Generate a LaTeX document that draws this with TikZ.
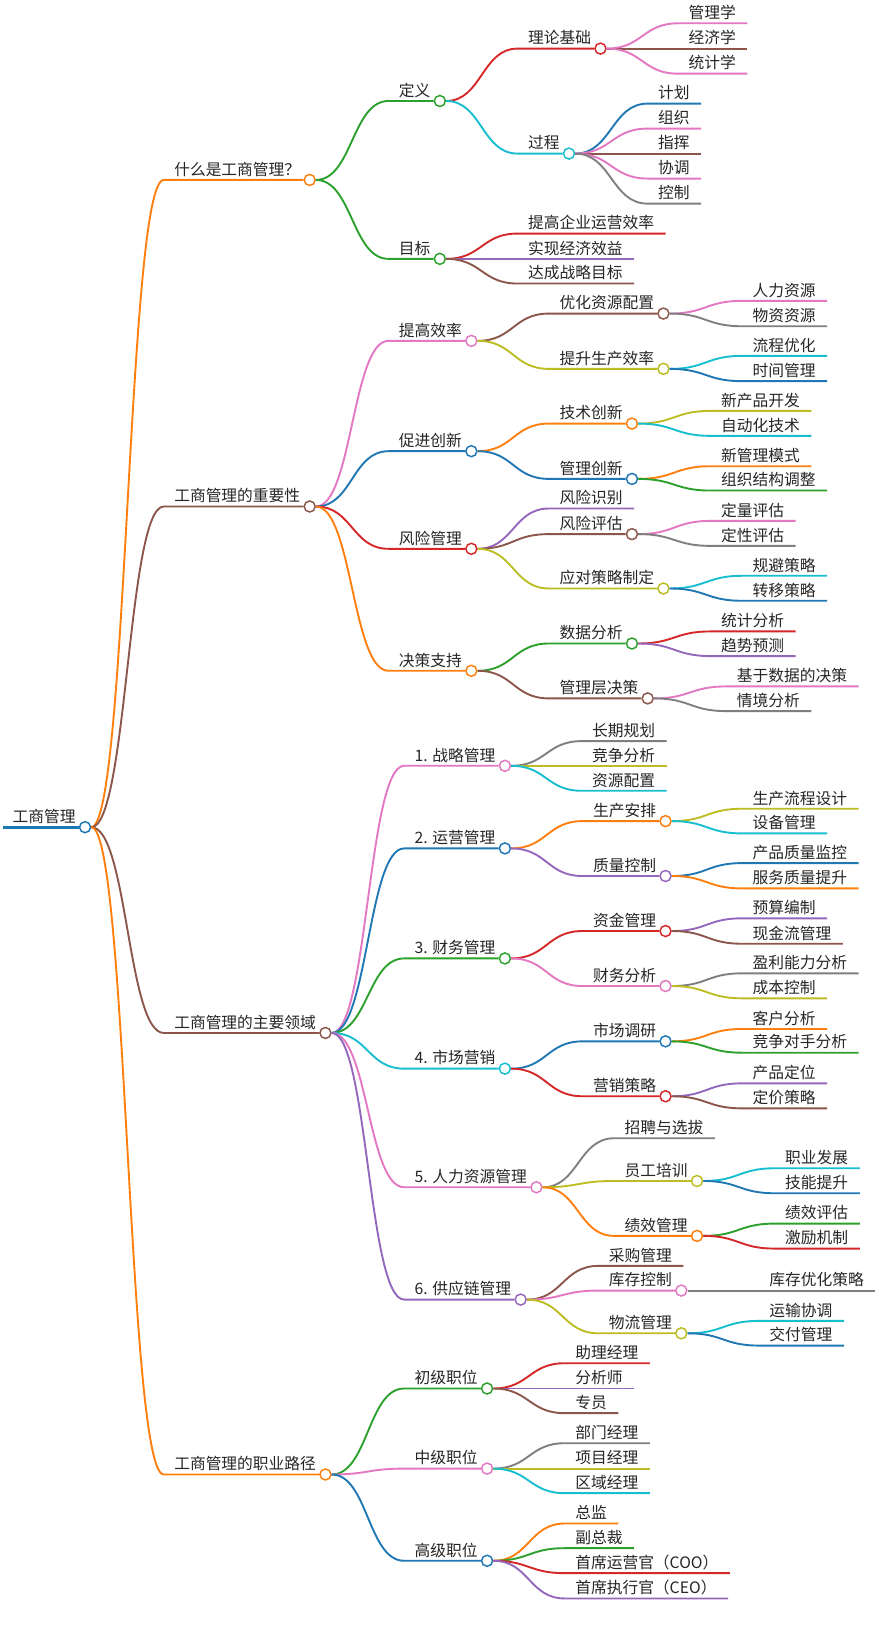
\documentclass[tikz,border=0pt]{standalone}
\usepackage{fontspec}
\newfontfamily\cjk{Noto Sans CJK SC}
\usetikzlibrary{calc}
\definecolor{cBlue}{HTML}{1F77B4}
\definecolor{cOrange}{HTML}{FF7F0E}
\definecolor{cGreen}{HTML}{2CA02C}
\definecolor{cRed}{HTML}{D62728}
\definecolor{cPurple}{HTML}{9467BD}
\definecolor{cBrown}{HTML}{8C564B}
\definecolor{cPink}{HTML}{E377C2}
\definecolor{cGray}{HTML}{7F7F7F}
\definecolor{cOlive}{HTML}{BCBD22}
\definecolor{cCyan}{HTML}{17BECF}
\tikzset{
  mmtxt/.style={inner sep=0pt, outer sep=0pt, font=\cjk\fontsize{15}{18}\selectfont, text=black!85, anchor=base west},
  mmdot/.style={circle, fill=white, line width=1.4pt, minimum size=10.5pt, inner sep=0pt},
  mmlink/.style={line width=1.8pt},
}
\newcommand\mmtopic[5]{%
  \expandafter\gdef\csname mmcol#1\endcsname{#2}%
  \node[mmtxt] (#1) at (#3,#4-4.5) {#5};
  \coordinate (#1-s) at (#3-10,#4);
  \node[mmdot, draw=#2] (#1-c) at ($(#1-s -| #1.east)+(9,0)$) {};
  \coordinate (#1-w) at (#1-c.west);
}
\newcommand\mmleaf[5]{%
  \expandafter\gdef\csname mmcol#1\endcsname{#2}%
  \node[mmtxt] (#1) at (#3,#4-4.5) {#5};
  \coordinate (#1-s) at (#3-10,#4);
  \coordinate (#1-w) at ($(#1-s -| #1.east)+(11,0)$);
}
\newcommand\mmlink[2]{%
  \draw[mmlink, draw=\csname mmcol#2\endcsname] let \p1=(#1-c.east), \p2=(#2-s) in
    (\p1) .. controls ({(\x1+\x2)/2},\y1) and ({(\x1+\x2)/2},\y2) .. (\p2) -- (#2-w);
}
\begin{document}
\begin{tikzpicture}[x=1pt, y=-1pt]
\fill[white] (0,0) rectangle (838,1568);
\useasboundingbox (0,0) rectangle (838,1568);
% root
\mmtopic{R}{cBlue}{12}{788}{工商管理}
\coordinate (R-start) at (3,788);
\draw[cBlue, line width=3.2pt] (R-start) -- (R-w);
% level 1
\mmtopic{A}{cOrange}{166}{171.4}{什么是工商管理？}
\mmtopic{B}{cBrown}{166}{482.5}{工商管理的重要性}
\mmtopic{C}{cBrown}{166}{984}{工商管理的主要领域}
\mmtopic{D}{cOrange}{166}{1404.6}{工商管理的职业路径}
% A
\mmtopic{A1}{cGreen}{380}{96.2}{定义}
\mmtopic{A11}{cRed}{503}{46.3}{理论基础}
\mmleaf{A111}{cPink}{656}{22.2}{管理学}
\mmleaf{A112}{cBrown}{656}{46.3}{经济学}
\mmleaf{A113}{cPink}{656}{70.2}{统计学}
\mmtopic{A12}{cCyan}{503}{146.3}{过程}
\mmleaf{A121}{cBlue}{627}{98.7}{计划}
\mmleaf{A122}{cPink}{627}{122.5}{组织}
\mmleaf{A123}{cBrown}{627}{146.3}{指挥}
\mmleaf{A124}{cPink}{627}{170.1}{协调}
\mmleaf{A125}{cGray}{627}{194}{控制}
\mmtopic{A2}{cGreen}{380}{246.6}{目标}
\mmleaf{A21}{cRed}{503}{222.5}{提高企业运营效率}
\mmleaf{A22}{cPurple}{503}{246.6}{实现经济效益}
\mmleaf{A23}{cBrown}{503}{270.1}{达成战略目标}
% B
\mmtopic{B1}{cPink}{380}{324.7}{提高效率}
\mmtopic{B11}{cBrown}{533}{298.7}{优化资源配置}
\mmleaf{B111}{cPink}{717}{286.6}{人力资源}
\mmleaf{B112}{cGray}{717}{310.8}{物资资源}
\mmtopic{B12}{cOlive}{533}{351.4}{提升生产效率}
\mmleaf{B121}{cCyan}{717}{339}{流程优化}
\mmleaf{B122}{cBlue}{717}{363.1}{时间管理}
\mmtopic{B2}{cBlue}{380}{429.8}{促进创新}
\mmtopic{B21}{cOrange}{533}{403.5}{技术创新}
\mmleaf{B211}{cOlive}{687}{391.4}{新产品开发}
\mmleaf{B212}{cCyan}{687}{415.2}{自动化技术}
\mmtopic{B22}{cBlue}{533}{456.2}{管理创新}
\mmleaf{B221}{cOrange}{687}{444.1}{新管理模式}
\mmleaf{B222}{cGreen}{687}{467.3}{组织结构调整}
\mmtopic{B3}{cRed}{380}{522.8}{风险管理}
\mmleaf{B31}{cPurple}{533}{484.4}{风险识别}
\mmtopic{B32}{cBrown}{533}{508.8}{风险评估}
\mmleaf{B321}{cPink}{687}{496.2}{定量评估}
\mmleaf{B322}{cGray}{687}{520}{定性评估}
\mmtopic{B33}{cOlive}{533}{560.6}{应对策略制定}
\mmleaf{B331}{cCyan}{717}{548.5}{规避策略}
\mmleaf{B332}{cBlue}{717}{572.3}{转移策略}
\mmtopic{B4}{cOrange}{380}{639}{决策支持}
\mmtopic{B41}{cGreen}{533}{613}{数据分析}
\mmleaf{B411}{cRed}{687}{601.5}{统计分析}
\mmleaf{B412}{cPurple}{687}{625}{趋势预测}
\mmtopic{B42}{cBrown}{533}{665.3}{管理层决策}
\mmleaf{B421}{cPink}{702}{653.9}{基于数据的决策}
\mmleaf{B422}{cGray}{702}{677.4}{情境分析}
% C
\mmtopic{C1}{cPink}{395}{729.5}{1. 战略管理}
\mmleaf{C11}{cGray}{564}{706}{长期规划}
\mmleaf{C12}{cOlive}{564}{729.5}{竞争分析}
\mmleaf{C13}{cCyan}{564}{753.3}{资源配置}
\mmtopic{C2}{cBlue}{395}{808.2}{2. 运营管理}
\mmtopic{C21}{cOrange}{565}{782.2}{生产安排}
\mmleaf{C211}{cOlive}{717}{770.4}{生产流程设计}
\mmleaf{C212}{cCyan}{717}{793.9}{设备管理}
\mmtopic{C22}{cPurple}{565}{834.5}{质量控制}
\mmleaf{C221}{cBlue}{717}{822.2}{产品质量监控}
\mmleaf{C222}{cOrange}{717}{846.3}{服务质量提升}
\mmtopic{C3}{cGreen}{395}{913}{3. 财务管理}
\mmtopic{C31}{cRed}{565}{886.9}{资金管理}
\mmleaf{C311}{cPurple}{717}{874.8}{预算编制}
\mmleaf{C312}{cBrown}{717}{899}{现金流管理}
\mmtopic{C32}{cPink}{565}{939.3}{财务分析}
\mmleaf{C321}{cGray}{717}{927.2}{盈利能力分析}
\mmleaf{C322}{cOlive}{717}{951}{成本控制}
\mmtopic{C4}{cCyan}{395}{1018}{4. 市场营销}
\mmtopic{C41}{cBlue}{565}{992}{市场调研}
\mmleaf{C411}{cOrange}{717}{980.2}{客户分析}
\mmleaf{C412}{cGreen}{717}{1002.8}{竞争对手分析}
\mmtopic{C42}{cRed}{565}{1044.3}{营销策略}
\mmleaf{C421}{cPurple}{717}{1032}{产品定位}
\mmleaf{C422}{cBrown}{717}{1055.8}{定价策略}
\mmtopic{C5}{cPink}{395}{1131}{5. 人力资源管理}
\mmleaf{C51}{cGray}{595}{1084.3}{招聘与选拔}
\mmtopic{C52}{cOlive}{595}{1125}{员工培训}
\mmleaf{C521}{cCyan}{748}{1112.9}{职业发展}
\mmleaf{C522}{cBlue}{748}{1136.7}{技能提升}
\mmtopic{C53}{cOrange}{595}{1177.3}{绩效管理}
\mmleaf{C531}{cGreen}{748}{1165.6}{绩效评估}
\mmleaf{C532}{cRed}{748}{1189.4}{激励机制}
\mmtopic{C6}{cPurple}{395}{1238}{6. 供应链管理}
\mmleaf{C61}{cBrown}{580}{1205.9}{采购管理}
\mmtopic{C62}{cPink}{580}{1229.4}{库存控制}
\mmleaf{C621}{cGray}{733}{1229.4}{库存优化策略}
\mmtopic{C63}{cOlive}{580}{1270.1}{物流管理}
\mmleaf{C631}{cCyan}{733}{1258.3}{运输协调}
\mmleaf{C632}{cBlue}{733}{1281.8}{交付管理}
% D
\mmtopic{D1}{cGreen}{395}{1322.7}{初级职位}
\mmleaf{D11}{cRed}{548}{1298.6}{助理经理}
\mmleaf{D12}{cPurple}{548}{1322.7}{分析师}
\mmleaf{D13}{cBrown}{548}{1346.2}{专员}
\mmtopic{D2}{cPink}{395}{1399}{中级职位}
\mmleaf{D21}{cGray}{548}{1374.8}{部门经理}
\mmleaf{D22}{cOlive}{548}{1399}{项目经理}
\mmleaf{D23}{cCyan}{548}{1422.4}{区域经理}
\mmtopic{D3}{cBlue}{395}{1486.8}{高级职位}
\mmleaf{D31}{cOrange}{548}{1451.3}{总监}
\mmleaf{D32}{cGreen}{548}{1474.8}{副总裁}
\mmleaf{D33}{cRed}{548}{1498.6}{首席运营官（COO）}
\mmleaf{D34}{cPurple}{548}{1522.7}{首席执行官（CEO）}
% links
\mmlink{R}{A}\mmlink{R}{B}\mmlink{R}{C}\mmlink{R}{D}
\mmlink{A}{A1}\mmlink{A}{A2}
\mmlink{A1}{A11}\mmlink{A1}{A12}
\mmlink{A11}{A111}\mmlink{A11}{A112}\mmlink{A11}{A113}
\mmlink{A12}{A121}\mmlink{A12}{A122}\mmlink{A12}{A123}\mmlink{A12}{A124}\mmlink{A12}{A125}
\mmlink{A2}{A21}\mmlink{A2}{A22}\mmlink{A2}{A23}
\mmlink{B}{B1}\mmlink{B}{B2}\mmlink{B}{B3}\mmlink{B}{B4}
\mmlink{B1}{B11}\mmlink{B1}{B12}
\mmlink{B11}{B111}\mmlink{B11}{B112}
\mmlink{B12}{B121}\mmlink{B12}{B122}
\mmlink{B2}{B21}\mmlink{B2}{B22}
\mmlink{B21}{B211}\mmlink{B21}{B212}
\mmlink{B22}{B221}\mmlink{B22}{B222}
\mmlink{B3}{B31}\mmlink{B3}{B32}\mmlink{B3}{B33}
\mmlink{B32}{B321}\mmlink{B32}{B322}
\mmlink{B33}{B331}\mmlink{B33}{B332}
\mmlink{B4}{B41}\mmlink{B4}{B42}
\mmlink{B41}{B411}\mmlink{B41}{B412}
\mmlink{B42}{B421}\mmlink{B42}{B422}
\mmlink{C}{C1}\mmlink{C}{C2}\mmlink{C}{C3}\mmlink{C}{C4}\mmlink{C}{C5}\mmlink{C}{C6}
\mmlink{C1}{C11}\mmlink{C1}{C12}\mmlink{C1}{C13}
\mmlink{C2}{C21}\mmlink{C2}{C22}
\mmlink{C21}{C211}\mmlink{C21}{C212}
\mmlink{C22}{C221}\mmlink{C22}{C222}
\mmlink{C3}{C31}\mmlink{C3}{C32}
\mmlink{C31}{C311}\mmlink{C31}{C312}
\mmlink{C32}{C321}\mmlink{C32}{C322}
\mmlink{C4}{C41}\mmlink{C4}{C42}
\mmlink{C41}{C411}\mmlink{C41}{C412}
\mmlink{C42}{C421}\mmlink{C42}{C422}
\mmlink{C5}{C51}\mmlink{C5}{C52}\mmlink{C5}{C53}
\mmlink{C52}{C521}\mmlink{C52}{C522}
\mmlink{C53}{C531}\mmlink{C53}{C532}
\mmlink{C6}{C61}\mmlink{C6}{C62}\mmlink{C6}{C63}
\mmlink{C62}{C621}
\mmlink{C63}{C631}\mmlink{C63}{C632}
\mmlink{D}{D1}\mmlink{D}{D2}\mmlink{D}{D3}
\mmlink{D1}{D11}\mmlink{D1}{D12}\mmlink{D1}{D13}
\mmlink{D2}{D21}\mmlink{D2}{D22}\mmlink{D2}{D23}
\mmlink{D3}{D31}\mmlink{D3}{D32}\mmlink{D3}{D33}\mmlink{D3}{D34}
\end{tikzpicture}
\end{document}
